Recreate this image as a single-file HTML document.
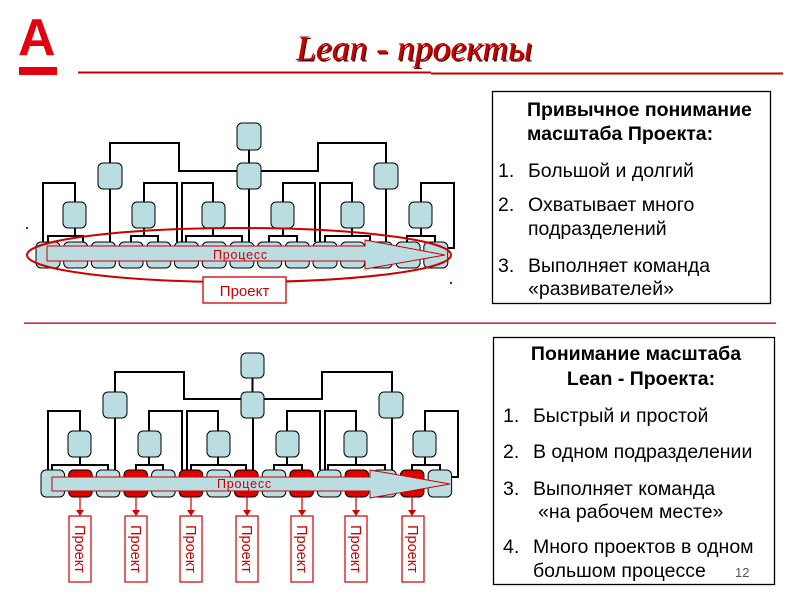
<!DOCTYPE html>
<html>
<head>
<meta charset="utf-8">
<style>
html,body{margin:0;padding:0;background:#fff;}
body{width:800px;height:600px;overflow:hidden;}
svg{display:block;}
.s{font-family:"Liberation Sans","DejaVu Sans",sans-serif;}
</style>
</head>
<body>
<svg width="800" height="600" viewBox="0 0 800 600" xmlns="http://www.w3.org/2000/svg">
<rect x="0" y="0" width="800" height="600" fill="#fff"/>

<!-- Logo -->
<text x="18" y="55" class="s" font-weight="bold" font-size="52" fill="#e3000f">А</text>
<rect x="19" y="67" width="38" height="8" fill="#e3000f"/>

<!-- Title -->
<text x="297.5" y="61.5" font-family="Liberation Serif, serif" font-style="italic" font-size="36" fill="#5a0000" textLength="236" lengthAdjust="spacingAndGlyphs">Lean - проекты</text>
<text x="296" y="60" font-family="Liberation Serif, serif" font-style="italic" font-size="36" fill="#cc0000" textLength="236" lengthAdjust="spacingAndGlyphs">Lean - проекты</text>
<rect x="78" y="71.5" width="353" height="2" fill="#c00000"/>
<rect x="431" y="72.5" width="352" height="2" fill="#c00000"/>

<!-- middle separator -->
<rect x="24" y="322.5" width="752" height="1.3" fill="#c00000"/>

<!-- ============ UPPER DIAGRAM ============ -->
<g fill="none" stroke="#000" stroke-width="2">
  <line x1="249" y1="150" x2="249" y2="163"/>
  <polyline points="237,171 179,171 179,143 110,143 110,163"/>
  <polyline points="261,171 318,171 318,143 386,143 386,163"/>
  <line x1="110" y1="189" x2="110" y2="242"/>
  <line x1="249" y1="189" x2="249" y2="242"/>
  <line x1="386" y1="189" x2="386" y2="242"/>
  <!-- L3 #1 -->
  <polyline points="43,242 43,183 75,183 75,202"/>
  <line x1="75" y1="228" x2="75" y2="236"/>
  <polyline points="48,242 48,236 83,236 83,242"/>
  <!-- L3 #2 -->
  <polyline points="144,202 144,183 177,183 177,242"/>
  <line x1="144" y1="228" x2="144" y2="236"/>
  <polyline points="131,242 131,236 158,236 158,242"/>
  <!-- L3 #3 -->
  <polyline points="182,242 182,183 213,183 213,202"/>
  <line x1="213" y1="228" x2="213" y2="236"/>
  <polyline points="186,242 186,236 242,236 242,242"/>
  <!-- L3 #4 -->
  <polyline points="283,202 283,183 315,183 315,242"/>
  <line x1="283" y1="228" x2="283" y2="236"/>
  <polyline points="269,242 269,236 297,236 297,242"/>
  <!-- L3 #5 -->
  <polyline points="320,242 320,183 352,183 352,202"/>
  <line x1="352" y1="228" x2="352" y2="236"/>
  <polyline points="325,242 325,236 370,236 370,242"/>
  <!-- L3 #6 -->
  <polyline points="421,202 421,183 454,183 454,248 447,248"/>
  <line x1="421" y1="228" x2="421" y2="236"/>
  <polyline points="407,242 407,236 435,236 435,242"/>
</g>
<g fill="#b9dde1" stroke="#000" stroke-width="1">
  <rect x="237" y="123" width="24" height="27" rx="5"/>
  <rect x="98" y="163" width="24" height="26" rx="5"/>
  <rect x="237" y="163" width="24" height="26" rx="5"/>
  <rect x="374" y="163" width="24" height="26" rx="5"/>
  <rect x="63" y="202" width="23" height="26" rx="5"/>
  <rect x="132" y="202" width="23" height="26" rx="5"/>
  <rect x="202" y="202" width="23" height="26" rx="5"/>
  <rect x="271" y="202" width="23" height="26" rx="5"/>
  <rect x="341" y="202" width="23" height="26" rx="5"/>
  <rect x="409" y="202" width="23" height="26" rx="5"/>
  <rect x="36" y="242" width="24" height="26" rx="5"/>
  <rect x="63.7" y="242" width="24" height="26" rx="5"/>
  <rect x="91.4" y="242" width="24" height="26" rx="5"/>
  <rect x="119.1" y="242" width="24" height="26" rx="5"/>
  <rect x="146.8" y="242" width="24" height="26" rx="5"/>
  <rect x="174.5" y="242" width="24" height="26" rx="5"/>
  <rect x="202.2" y="242" width="24" height="26" rx="5"/>
  <rect x="229.9" y="242" width="24" height="26" rx="5"/>
  <rect x="257.6" y="242" width="24" height="26" rx="5"/>
  <rect x="285.3" y="242" width="24" height="26" rx="5"/>
  <rect x="313" y="242" width="24" height="26" rx="5"/>
  <rect x="340.7" y="242" width="24" height="26" rx="5"/>
  <rect x="368.4" y="242" width="24" height="26" rx="5"/>
  <rect x="396.1" y="242" width="24" height="26" rx="5"/>
  <rect x="423.8" y="242" width="24" height="26" rx="5"/>
</g>
<polygon points="47,246 365,246 365,240 445,255 365,269 365,261 47,261" fill="#b9dde1" stroke="#cc0000" stroke-width="1"/>
<text x="213" y="259" class="s" font-size="12.5" fill="#cc0000" letter-spacing="0.8">Процесс</text>
<ellipse cx="239" cy="255" rx="212" ry="27" fill="none" stroke="#cc0000" stroke-width="2"/>
<rect x="203" y="277" width="83" height="26" fill="#fff" stroke="#cc0000" stroke-width="1.3"/>
<text x="244.5" y="296" class="s" font-size="15" fill="#cc0000" text-anchor="middle">Проект</text>
<rect x="26" y="227" width="2" height="2" fill="#cc0000"/>
<rect x="450" y="282" width="2" height="2" fill="#cc0000"/>

<!-- ============ LOWER DIAGRAM ============ -->
<g fill="none" stroke="#000" stroke-width="2">
  <line x1="252.5" y1="378" x2="252.5" y2="392"/>
  <polyline points="241,399 184,399 184,372 115,372 115,392"/>
  <polyline points="264,399 322,399 322,372 392,372 392,392"/>
  <line x1="115" y1="418" x2="115" y2="470"/>
  <line x1="253" y1="418" x2="253" y2="470"/>
  <line x1="392" y1="418" x2="392" y2="470"/>
  <!-- L3 #1 -->
  <polyline points="48,470 48,411 80,411 80,431"/>
  <line x1="80" y1="457" x2="80" y2="465"/>
  <polyline points="52,470 52,465 108,465 108,470"/>
  <!-- L3 #2 -->
  <polyline points="149,431 149,411 182,411 182,470"/>
  <line x1="149" y1="457" x2="149" y2="465"/>
  <polyline points="136,470 136,465 163,465 163,470"/>
  <!-- L3 #3 -->
  <polyline points="187,470 187,411 218,411 218,431"/>
  <line x1="218" y1="457" x2="218" y2="465"/>
  <polyline points="191,470 191,465 246,465 246,470"/>
  <!-- L3 #4 -->
  <polyline points="287,431 287,411 320,411 320,470"/>
  <line x1="287" y1="457" x2="287" y2="465"/>
  <polyline points="274,470 274,465 302,465 302,470"/>
  <!-- L3 #5 -->
  <polyline points="325,470 325,411 356,411 356,431"/>
  <line x1="356" y1="457" x2="356" y2="465"/>
  <polyline points="328,470 328,465 385,465 385,470"/>
  <!-- L3 #6 -->
  <polyline points="425,431 425,411 458,411 458,477 451,477"/>
  <line x1="425" y1="457" x2="425" y2="465"/>
  <polyline points="412,470 412,465 440,465 440,470"/>
</g>
<g fill="#b9dde1" stroke="#000" stroke-width="1">
  <rect x="241" y="353" width="23" height="25" rx="5"/>
  <rect x="103" y="392" width="24" height="26" rx="5"/>
  <rect x="241" y="392" width="23" height="26" rx="5"/>
  <rect x="379" y="392" width="24" height="26" rx="5"/>
  <rect x="68" y="431" width="23" height="26" rx="5"/>
  <rect x="138" y="431" width="23" height="26" rx="5"/>
  <rect x="207" y="431" width="23" height="26" rx="5"/>
  <rect x="276" y="431" width="23" height="26" rx="5"/>
  <rect x="344" y="431" width="23" height="26" rx="5"/>
  <rect x="413" y="431" width="23" height="26" rx="5"/>
  <rect x="41" y="470" width="23.5" height="27" rx="5"/>
  <rect x="96.3" y="470" width="23.5" height="27" rx="5"/>
  <rect x="151.6" y="470" width="23.5" height="27" rx="5"/>
  <rect x="206.9" y="470" width="23.5" height="27" rx="5"/>
  <rect x="262.2" y="470" width="23.5" height="27" rx="5"/>
  <rect x="317.5" y="470" width="23.5" height="27" rx="5"/>
  <rect x="372.8" y="470" width="23.5" height="27" rx="5"/>
  <rect x="428.1" y="470" width="23.5" height="27" rx="5"/>
</g>
<g fill="#e00000" stroke="#000" stroke-width="1">
  <rect x="68.65" y="470" width="23.5" height="27" rx="5"/>
  <rect x="123.95" y="470" width="23.5" height="27" rx="5"/>
  <rect x="179.25" y="470" width="23.5" height="27" rx="5"/>
  <rect x="234.55" y="470" width="23.5" height="27" rx="5"/>
  <rect x="289.85" y="470" width="23.5" height="27" rx="5"/>
  <rect x="345.15" y="470" width="23.5" height="27" rx="5"/>
  <rect x="400.45" y="470" width="23.5" height="27" rx="5"/>
</g>
<polygon points="52,477 370,477 370,470 450,484 370,498 370,491 52,491" fill="#b9dde1" stroke="#cc0000" stroke-width="1"/>
<text x="217" y="488" class="s" font-size="12.5" fill="#cc0000" letter-spacing="0.8">Процесс</text>

<!-- project arrows and boxes -->
<g stroke="#cc0000" stroke-width="1.2" fill="none">
  <line x1="80" y1="497" x2="80" y2="511"/>
  <line x1="136" y1="497" x2="136" y2="511"/>
  <line x1="191" y1="497" x2="191" y2="511"/>
  <line x1="247" y1="497" x2="247" y2="511"/>
  <line x1="302" y1="497" x2="302" y2="511"/>
  <line x1="356" y1="497" x2="356" y2="511"/>
  <line x1="412" y1="497" x2="412" y2="511"/>
</g>
<g fill="#cc0000">
  <polygon points="76,510 84,510 80,516"/>
  <polygon points="132,510 140,510 136,516"/>
  <polygon points="187,510 195,510 191,516"/>
  <polygon points="243,510 251,510 247,516"/>
  <polygon points="298,510 306,510 302,516"/>
  <polygon points="352,510 360,510 356,516"/>
  <polygon points="408,510 416,510 412,516"/>
</g>
<g fill="#fff" stroke="#cc0000" stroke-width="1.2">
  <rect x="69" y="516" width="22" height="66"/>
  <rect x="125" y="516" width="22" height="66"/>
  <rect x="180" y="516" width="22" height="66"/>
  <rect x="236" y="516" width="22" height="66"/>
  <rect x="291" y="516" width="22" height="66"/>
  <rect x="345" y="516" width="22" height="66"/>
  <rect x="402" y="516" width="22" height="66"/>
</g>
<g class="s" font-size="14.5" fill="#cc0000" text-anchor="middle">
  <text transform="translate(75,549) rotate(90)">Проект</text>
  <text transform="translate(131,549) rotate(90)">Проект</text>
  <text transform="translate(186,549) rotate(90)">Проект</text>
  <text transform="translate(242,549) rotate(90)">Проект</text>
  <text transform="translate(297,549) rotate(90)">Проект</text>
  <text transform="translate(351,549) rotate(90)">Проект</text>
  <text transform="translate(408,549) rotate(90)">Проект</text>
</g>

<!-- ============ TEXT BOX 1 ============ -->
<rect x="492.5" y="91.5" width="278" height="212" fill="#fff" stroke="#000" stroke-width="1.3"/>
<g class="s" font-size="19.5" fill="#000">
  <text x="527" y="116" font-weight="bold">Привычное понимание</text>
  <text x="527" y="140" font-weight="bold">масштаба Проекта:</text>
  <text x="498" y="177">1.</text><text x="528" y="177">Большой и долгий</text>
  <text x="498" y="211">2.</text><text x="528" y="211">Охватывает много</text>
  <text x="528" y="235">подразделений</text>
  <text x="498" y="272">3.</text><text x="528" y="272">Выполняет команда</text>
  <text x="528" y="295">«развивателей»</text>
</g>

<!-- ============ TEXT BOX 2 ============ -->
<rect x="493.5" y="337.5" width="281" height="247" fill="#fff" stroke="#000" stroke-width="1.3"/>
<g class="s" font-size="19.5" fill="#000">
  <text x="636" y="360" font-weight="bold" text-anchor="middle">Понимание масштаба</text>
  <text x="641" y="385" font-weight="bold" text-anchor="middle">Lean - Проекта:</text>
  <text x="503" y="422">1.</text><text x="533" y="422">Быстрый и простой</text>
  <text x="503" y="458">2.</text><text x="533" y="458">В одном подразделении</text>
  <text x="503" y="495">3.</text><text x="533" y="495">Выполняет команда</text>
  <text x="538" y="518">«на рабочем месте»</text>
  <text x="503" y="553">4.</text><text x="533" y="553">Много проектов в одном</text>
  <text x="533" y="577">большом процессе</text>
</g>
<text x="735" y="577" class="s" font-size="13" fill="#555">12</text>
</svg>
</body>
</html>
